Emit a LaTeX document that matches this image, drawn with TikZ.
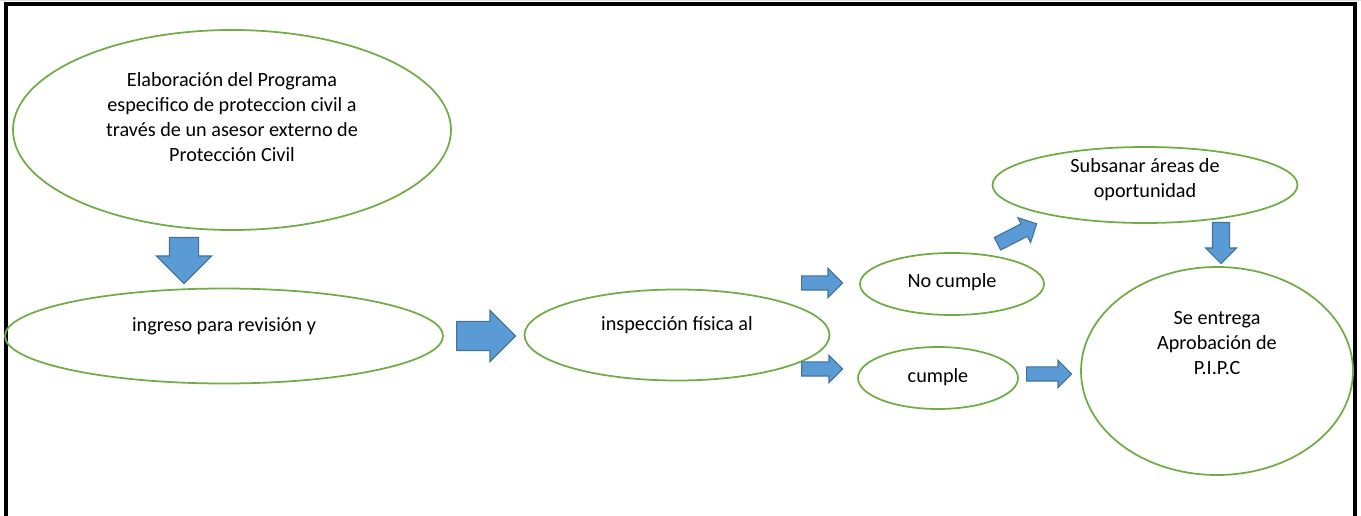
\documentclass[tikz,border=0pt]{standalone}
\usepackage{fontspec}
\setmainfont{Carlito}
\usepackage{tikz}
\usetikzlibrary{shapes.geometric, shapes.arrows}
\definecolor{bubblegreen}{HTML}{70AD47}
\definecolor{arrowfill}{HTML}{5B9BD5}
\definecolor{arrowedge}{HTML}{41719C}
\newcommand\pxsize{0.02}
\tikzset{bubble/.style={ellipse, draw=bubblegreen, line width=1pt, inner sep=0pt}}
\tikzset{bubbletext/.style={align=center, font=\fontsize{11.5}{14.2}\selectfont, inner sep=0pt}}
\tikzset{fatarrow/.style n args={3}{single arrow, draw=arrowedge, fill=arrowfill, line width=0.6pt, inner xsep=0pt, inner ysep=#2/2*\pxsize cm, single arrow head extend=(#3-#2)/2*\pxsize cm, minimum height=#1*\pxsize cm, minimum width=#3*\pxsize cm, anchor=tail}}
\tikzset{frameline/.style={line width=2.3pt, black}}
\begin{document}
\begin{tikzpicture}[x=\pxsize cm, y=\pxsize cm]
\useasboundingbox (0,0) rectangle (1361,-516);
% frame
\draw[gray!25, line width=1pt] (0,-0.5) -- (1361,-0.5);
\draw[frameline] (6,-516) -- (6,-4) -- (1355,-4) -- (1355,-516);
% bubbles
\node[bubble, minimum width=438*\pxsize cm, minimum height=200*\pxsize cm] (elab) at (232,-130) {};
\node[bubble, minimum width=438*\pxsize cm, minimum height=95*\pxsize cm] (ingreso) at (224,-336) {};
\node[bubble, minimum width=305*\pxsize cm, minimum height=91*\pxsize cm] (inspeccion) at (677,-335) {};
\node[bubble, minimum width=184*\pxsize cm, minimum height=62*\pxsize cm] (nocumple) at (952,-284) {};
\node[bubble, minimum width=160*\pxsize cm, minimum height=62*\pxsize cm] (cumple) at (938,-378) {};
\node[bubble, minimum width=305*\pxsize cm, minimum height=76*\pxsize cm] (subsanar) at (1145,-185) {};
\node[bubble, minimum width=272*\pxsize cm, minimum height=208*\pxsize cm] (entrega) at (1217,-371) {};
% texts
\node[bubbletext] (elabtext) at ([yshift=0.26cm]elab.center) {Elaboración del Programa\\especifico de proteccion civil a\\través de un asesor externo de\\Protección Civil};
\node[bubbletext] (ingresotext) at ([yshift=0.2cm]ingreso.center) {ingreso para revisión y};
\node[bubbletext] (inspecciontext) at ([yshift=0.2cm]inspeccion.center) {inspección física al};
\node[bubbletext] (nocumpletext) at ([yshift=0.04cm]nocumple.center) {No cumple};
\node[bubbletext] (cumpletext) at ([yshift=0.02cm]cumple.center) {cumple};
\node[bubbletext] (subsanartext) at ([yshift=0.1cm]subsanar.center) {Subsanar áreas de\\oportunidad};
\node[bubbletext] (entregatext) at ([yshift=0.56cm]entrega.center) {Se entrega\\Aprobación de\\P.I.P.C};
% block arrows
\node[fatarrow={46}{28}{54}, rotate=-90] (arrelab) at (184,-237) {};
\node[fatarrow={59}{28}{50}] (arringreso) at (456,-336) {};
\node[fatarrow={41}{13}{28}] (arrnocumple) at (801,-283) {};
\node[fatarrow={41}{13}{26}] (arrcumple) at (801,-369) {};
\node[fatarrow={44}{13}{27}, rotate=27] (arrsubsanar) at (997,-244) {};
\node[fatarrow={41}{16}{30}, rotate=-90] (arrentrega) at (1221,-222) {};
\node[fatarrow={45}{13}{26}] (arrcumpleok) at (1026,-374) {};
\end{tikzpicture}
\end{document}
